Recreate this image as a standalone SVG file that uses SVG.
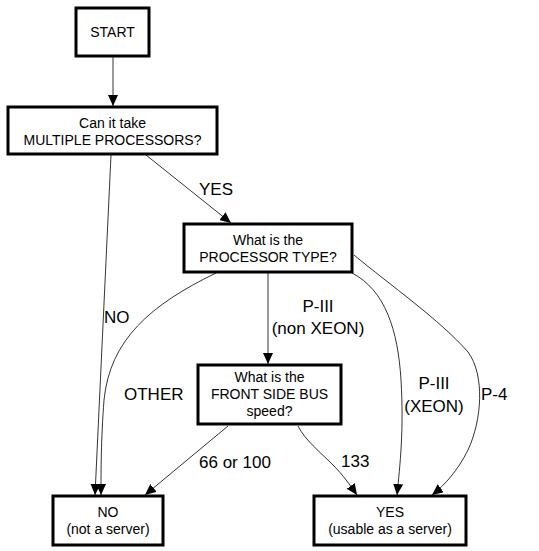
<svg xmlns="http://www.w3.org/2000/svg" width="539" height="551" viewBox="0 0 539 551">
<style>
.box{fill:#fff;stroke:#000;stroke-width:3}
.bt{font-family:"Liberation Sans",Arial,sans-serif;font-size:14px;text-anchor:middle;fill:#000}
.el{font-family:"Liberation Sans",Arial,sans-serif;font-size:17px;fill:#000}
.e{fill:none;stroke:#000;stroke-width:0.8}
</style>
<defs>
<marker id="ah" markerUnits="userSpaceOnUse" markerWidth="12" markerHeight="10" refX="11" refY="5" orient="auto">
<path d="M0,0 L11,5 L0,10 Z" fill="#000"/>
</marker>
</defs>
<rect width="539" height="551" fill="#fff"/>
<g id="connectors">
<path class="e" marker-end="url(#ah)" d="M113,57 L113,106"/>
<path class="e" marker-end="url(#ah)" d="M111,155 L95,495"/>
<path class="e" marker-end="url(#ah)" d="M146,155 L231,223"/>
<path class="e" marker-end="url(#ah)" d="M216,273 C150,305 110,340 104,400 C101,440 101,470 101,495"/>
<path class="e" marker-end="url(#ah)" d="M268,273 L268,364"/>
<path class="e" marker-end="url(#ah)" d="M352,273 C385,290 398,330 401,380 C404,430 400,465 397,495"/>
<path class="e" marker-end="url(#ah)" d="M354,255 C390,285 440,320 468,352 C485,375 482,420 468,450 C458,470 445,485 432,495"/>
<path class="e" marker-end="url(#ah)" d="M228,426 L145,495"/>
<path class="e" marker-end="url(#ah)" d="M298,426 C305,440 320,452 333,465 C343,475 350,485 357,495"/>
</g>
<g id="start">
<rect class="box" x="76" y="8" width="73" height="48"/>
<text class="bt" x="112.5" y="37">START</text>
</g>
<g id="multiple">
<rect class="box" x="8" y="107" width="209" height="47"/>
<text class="bt" x="112.5" y="128">Can it take</text>
<text class="bt" x="112.5" y="145">MULTIPLE PROCESSORS?</text>
</g>
<g id="proctype">
<rect class="box" x="184" y="224" width="168" height="48"/>
<text class="bt" x="268" y="245">What is the</text>
<text class="bt" x="268" y="262">PROCESSOR TYPE?</text>
</g>
<g id="fsb">
<rect class="box" x="198" y="365" width="143" height="59"/>
<text class="bt" x="269.5" y="382">What is the</text>
<text class="bt" x="269.5" y="399">FRONT SIDE BUS</text>
<text class="bt" x="269.5" y="416">speed?</text>
</g>
<g id="no">
<rect class="box" x="53" y="496" width="110" height="49"/>
<text class="bt" x="108" y="517">NO</text>
<text class="bt" x="108" y="534">(not a server)</text>
</g>
<g id="yes">
<rect class="box" x="314" y="496" width="152" height="49"/>
<text class="bt" x="390" y="517">YES</text>
<text class="bt" x="390" y="534">(usable as a server)</text>
</g>
<g id="labels">
<text class="el" x="216" y="195" text-anchor="middle">YES</text>
<text class="el" x="104" y="323">NO</text>
<text class="el" x="124" y="400">OTHER</text>
<text class="el" x="318" y="312" text-anchor="middle">P-III</text>
<text class="el" x="318" y="334" text-anchor="middle">(non XEON)</text>
<text class="el" x="434" y="389" text-anchor="middle">P-III</text>
<text class="el" x="434" y="412" text-anchor="middle">(XEON)</text>
<text class="el" x="481" y="400">P-4</text>
<text class="el" x="199" y="468">66 or 100</text>
<text class="el" x="341" y="467">133</text>
</g>
</svg>
